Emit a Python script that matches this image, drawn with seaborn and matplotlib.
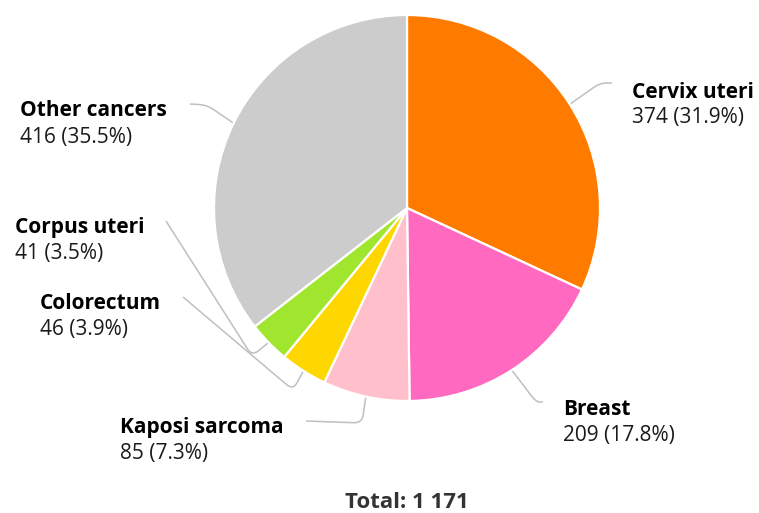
import numpy as np
import matplotlib
matplotlib.use("Agg")
import matplotlib.pyplot as plt
from matplotlib.path import Path
from matplotlib.patches import PathPatch
import seaborn as sns

# Data
categories = ["Cervix uteri", "Breast", "Kaposi sarcoma", "Colorectum", "Corpus uteri", "Other cancers"]
counts = [374, 209, 85, 46, 41, 416]
percents = [31.9, 17.8, 7.3, 3.9, 3.5, 35.5]
colors = ["#ff7b00", "#ff69c0", "#ffc0cb", "#ffd700", "#a0e62e", "#cccccc"]
total_label = "Total: 1 171"

sns.set_theme(style="white")
plt.rcParams["font.family"] = ["Open Sans", "DejaVu Sans"]

W, H = 759, 513
fig = plt.figure(figsize=(W / 100, H / 100), dpi=100)
ax = fig.add_axes([0, 0, 1, 1])


def px(x, y):
    """Convert top-left pixel coordinates into data coordinates."""
    return x, H - y


cx, cy = px(407, 208)
R = 193
wedges, _ = ax.pie(
    counts,
    colors=colors,
    startangle=90,
    counterclock=False,
    radius=R,
    center=(cx, cy),
    frame=True,
    wedgeprops=dict(edgecolor="white", linewidth=1.6),
)
ax.set_xlim(0, W)
ax.set_ylim(0, H)
ax.set_aspect("equal")
ax.axis("off")

# Label layout: (knee, connector end, text x, bold baseline, value baseline)
layout = {
    "Cervix uteri": ((600, 83), (612, 83), 632, 97.5, 123.5),
    "Breast": ((536, 402), (543, 402), 563, 415, 441.5),
    "Kaposi sarcoma": ((362, 423), (306, 421), 120, 432.5, 459),
    "Colorectum": ((293, 390), (183, 297), 40, 309, 335),
    "Corpus uteri": ((252, 356), (166, 221), 15, 233, 259.5),
    "Other cancers": ((207, 105), (190, 104), 20, 116.5, 143.5),
}


def connector(a, k, e, rr=8.0):
    a, k, e = map(np.asarray, (a, k, e))
    d1 = (a - k) / np.linalg.norm(a - k)
    d2 = (e - k) / np.linalg.norm(e - k)
    r1 = min(rr, np.linalg.norm(a - k) * 0.5)
    r2 = min(rr, np.linalg.norm(e - k) * 0.5)
    p1 = k + d1 * r1
    p2 = k + d2 * r2
    verts = [a, p1, k, p2, e]
    codes = [Path.MOVETO, Path.LINETO, Path.CURVE3, Path.CURVE3, Path.LINETO]
    return Path(verts, codes)


for w, name, n, p in zip(wedges, categories, counts, percents):
    mid = np.deg2rad((w.theta1 + w.theta2) / 2)
    edge = (cx + R * np.cos(mid), cy + R * np.sin(mid))
    knee, end, tx, yb, yv = layout[name]
    path = connector(edge, px(*knee), px(*end))
    ax.add_patch(PathPatch(path, fill=False, edgecolor="#bfbfbf", lw=1.1, zorder=0.5))
    ax.text(*px(tx, yb), name, fontsize=15, fontweight="bold", color="#000000",
            ha="left", va="baseline")
    ax.text(*px(tx, yv), f"{n} ({p}%)", fontsize=15, color="#1a1a1a",
            ha="left", va="baseline")

ax.text(*px(407, 508), total_label, fontsize=16, fontweight="bold", color="#333333",
        ha="center", va="baseline")

fig.savefig("out.png", dpi=100, facecolor="white")
